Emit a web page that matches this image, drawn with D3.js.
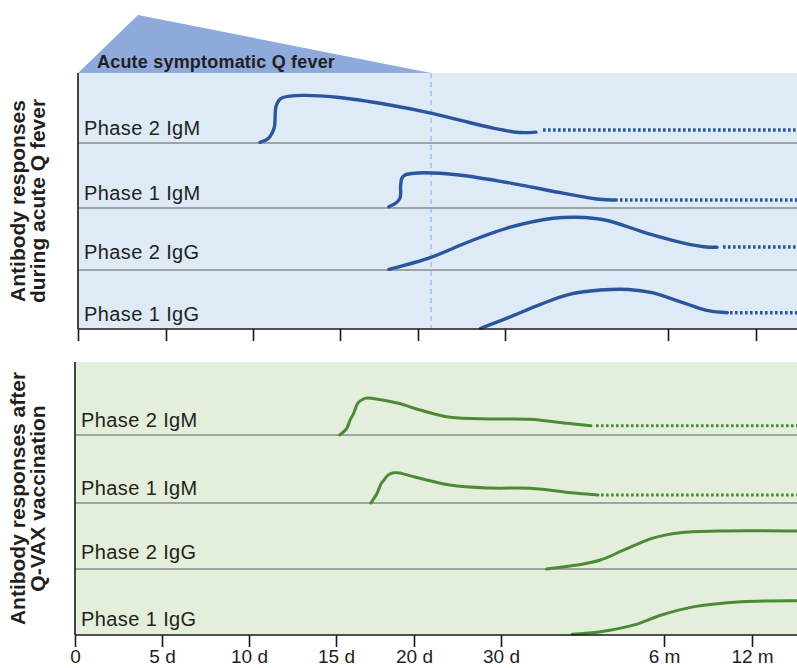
<!DOCTYPE html>
<html>
<head>
<meta charset="utf-8">
<script src="https://cdn.jsdelivr.net/npm/d3@7"></script>
<style>
  html, body { margin: 0; padding: 0; background: #fff; }
  svg { display: block; font-family: "Liberation Sans", Arial, Helvetica, sans-serif; }
</style>
</head>
<body>
<div id="chart"></div>
<script>
// time axis (days) and its labels
const tickDays = [0, 5, 10, 15, 20, 30, 180, 365];
const tickLabels = ["0", "5 d", "10 d", "15 d", "20 d", "30 d", "6 m", "12 m"];
const lastDay = 450;
const acuteEndDay = 21.5;

const rowLabels = ["Phase 2 IgM", "Phase 1 IgM", "Phase 2 IgG", "Phase 1 IgG"];

// acute Q fever responses: [day, relative level in row]
const acuteP2IgM = [[10.4, 0.01], [10.86, 0.06], [11.09, 0.14], [11.23, 0.23], [11.32, 0.52], [11.49, 0.61],
  [11.72, 0.65], [12.82, 0.68], [14.83, 0.653], [18.18, 0.543], [21.61, 0.424], [24.71, 0.329],
  [28.74, 0.21], [42.6, 0.15], [58.5, 0.155]];
const acuteP1IgM = [[18.13, 0.02], [18.59, 0.077], [18.85, 0.154], [18.89, 0.354], [18.97, 0.46],
  [19.17, 0.508], [19.62, 0.53], [20.75, 0.543], [24.71, 0.508], [36.2, 0.38], [84.3, 0.226],
  [116.5, 0.134], [132.5, 0.123]];
const acuteP2IgG = [[18.14, 0.011], [21.49, 0.205], [25.84, 0.456], [31.3, 0.673], [74.5, 0.834],
  [96.3, 0.85], [122, 0.806], [161, 0.592], [215.7, 0.43], [255.3, 0.376], [283, 0.366]];
const acuteP1IgG = [[27.2, 0.012], [31.3, 0.18], [61.6, 0.41], [87.5, 0.58], [117.8, 0.66], [143.7, 0.67],
  [165.3, 0.615], [215.7, 0.435], [265.1, 0.31], [304.7, 0.276]];
// dotted persistence after solid curve: [start day, level]
const acuteTails = [[65, 0.186], [135.8, 0.123], [295.6, 0.37], [310.3, 0.276]];

// Q-VAX vaccination responses
const vaxP2IgM = [[15.23, 0], [15.69, 0.092], [15.9, 0.205], [16.13, 0.297], [16.41, 0.44], [16.73, 0.49],
  [16.99, 0.507], [17.37, 0.5], [19.0, 0.434], [20.69, 0.342], [24.14, 0.242], [28.74, 0.219],
  [56.7, 0.215], [91.2, 0.16], [112.8, 0.127]];
const vaxP1IgM = [[17.24, 0], [17.63, 0.143], [17.88, 0.28], [18.08, 0.338], [18.33, 0.41], [18.7, 0.445],
  [19.1, 0.44], [19.6, 0.41], [24.14, 0.265], [28.74, 0.22], [56.7, 0.216], [100, 0.143], [119.3, 0.118]];
const vaxP2IgG = [[71.8, 0], [100, 0.06], [121.5, 0.136], [143.2, 0.288], [169, 0.465], [213.6, 0.55],
  [293.5, 0.576], [450, 0.576]];
const vaxP1IgG = [[95.4, 0.01], [121.5, 0.05], [151.8, 0.15], [177.7, 0.303], [243.9, 0.43],
  [342.7, 0.505], [450, 0.52]];
const vaxTails = [[117.4, 0.127], [122.1, 0.118], null, null];

const W = 797, H = 668;
const svg = d3.select("#chart").append("svg").attr("width", W).attr("height", H);

const panels = [
  {
    title: ["Antibody responses", "during acute Q fever"],
    series: [acuteP2IgM, acuteP1IgM, acuteP2IgG, acuteP1IgG],
    tails: acuteTails,
    rows: [73, 143, 208, 270, 329],
    range: [78, 166, 253, 340, 418, 505, 668, 756, 797],
    bg: "#deebf7", stroke: "#2b559c", width: 3.4,
    labelBase: [135, 200, 259, 321]
  },
  {
    title: ["Antibody responses after", "Q-VAX vaccination"],
    series: [vaxP2IgM, vaxP1IgM, vaxP2IgG, vaxP1IgG],
    tails: vaxTails,
    rows: [362, 435, 503, 569, 635],
    range: [75, 162, 249, 336, 414, 501, 664, 752, 797],
    bg: "#e3efda", stroke: "#4b8a36", width: 3,
    labelBase: [427, 495, 559, 626]
  }
];

panels.forEach((p, pi) => {
  const x = d3.scaleLinear().domain([...tickDays, lastDay]).range(p.range);
  const top = p.rows[0], bottom = p.rows[4];
  const x0 = p.range[0];

  const g = svg.append("g");

  if (pi === 0) {
    // acute symptomatic phase wedge
    svg.append("path")
      .attr("d", `M${x0},${top} L138,15 L${x(acuteEndDay)},${top} Z`)
      .attr("fill", "#8eaadb");
    svg.append("text")
      .attr("x", 97).attr("y", 68)
      .attr("font-size", 18).attr("font-weight", "bold")
      .attr("letter-spacing", 0.2)
      .attr("fill", "#231f20")
      .text("Acute symptomatic Q fever");
  }

  g.append("rect")
    .attr("x", x0).attr("y", top)
    .attr("width", W - x0).attr("height", bottom - top)
    .attr("fill", p.bg);

  // row separators
  p.rows.slice(1, 4).forEach(r => {
    g.append("line")
      .attr("x1", x0).attr("x2", W).attr("y1", r).attr("y2", r)
      .attr("stroke", "#9ea3a6").attr("stroke-width", 1.8);
  });

  if (pi === 0) {
    g.append("line")
      .attr("x1", x(acuteEndDay)).attr("x2", x(acuteEndDay))
      .attr("y1", top).attr("y2", bottom)
      .attr("stroke", "#86ace0").attr("stroke-width", 1)
      .attr("stroke-dasharray", "5,4");
  }

  // row labels
  rowLabels.forEach((lab, i) => {
    g.append("text")
      .attr("x", x0 + 6).attr("y", p.labelBase[i])
      .attr("font-size", 20).attr("letter-spacing", 0.4)
      .attr("fill", "#231f20")
      .text(lab);
  });

  // curves
  p.series.forEach((s, i) => {
    const y = d3.scaleLinear().domain([0, 1]).range([p.rows[i + 1], p.rows[i]]);
    const line = d3.line().x(d => x(d[0])).y(d => y(d[1])).curve(d3.curveCatmullRom.alpha(0.5));
    g.append("path")
      .attr("d", line(s))
      .attr("fill", "none")
      .attr("stroke", p.stroke)
      .attr("stroke-width", p.width)
      .attr("stroke-linecap", "round");
    const t = p.tails[i];
    if (t) {
      g.append("line")
        .attr("x1", x(t[0])).attr("x2", W)
        .attr("y1", y(t[1])).attr("y2", y(t[1]))
        .attr("stroke", p.stroke)
        .attr("stroke-width", p.width)
        .attr("stroke-dasharray", "2.6,2.4");
    }
  });

  // axes
  g.append("line")
    .attr("x1", x0).attr("x2", x0).attr("y1", top).attr("y2", bottom)
    .attr("stroke", "#1a1a1a").attr("stroke-width", 1.6);
  const axis = d3.axisBottom(x).tickValues(tickDays).tickSize(12)
    .tickFormat((d, i) => pi === 1 ? tickLabels[i] : "");
  const ax = svg.append("g")
    .attr("transform", `translate(0,${bottom})`)
    .call(axis);
  ax.select(".domain").attr("d", `M${x0},0H${W}`).attr("stroke", "#1a1a1a").attr("stroke-width", 1.6);
  ax.selectAll(".tick line").attr("stroke", "#1a1a1a").attr("stroke-width", 1.6);
  ax.selectAll(".tick text")
    .attr("font-size", 19).attr("fill", "#231f20")
    .attr("font-family", "'Liberation Sans', Arial, sans-serif")
    .attr("dy", null).attr("y", 28);

  // rotated panel title
  const cy = (top + bottom) / 2;
  p.title.forEach((t, i) => {
    svg.append("text")
      .attr("transform", `translate(${25 + i * 20},${cy}) rotate(-90)`)
      .attr("text-anchor", "middle")
      .attr("font-size", 21).attr("font-weight", "bold")
      .attr("fill", "#231f20")
      .text(t);
  });
});
</script>
</body>
</html>
